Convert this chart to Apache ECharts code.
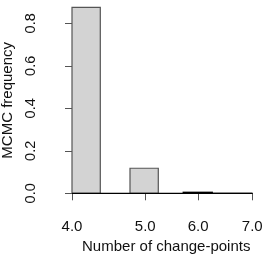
<!DOCTYPE html>
<html><head><meta charset="utf-8">
<script src="https://cdn.jsdelivr.net/npm/echarts@6/dist/echarts.min.js"></script>
<style>html,body{margin:0;padding:0;background:#fff}#c{width:265px;height:256px}</style>
</head><body><div id="c"></div>
<script>
// bins in plot units (bar width = 1)
const binLeft = [0, 2.05, 3.93, 4.96];
const binRight = [1.0, 3.05, 4.96, 6.38];
const freq = [0.875, 0.118, 0.005, 0.0];
const tickPos = [0, 2.59, 4.46, 6.37];
const tickLabels = ["4.0", "5.0", "6.0", "7.0"];

const barData = freq.map((v, i) => [binLeft[i], binRight[i], v]);
const font = "'Liberation Sans', Arial, sans-serif";
const chart = echarts.init(document.getElementById('c'), null, {renderer: 'canvas'});
chart.setOption({
  animation: false,
  grid: {left: 72, right: 12.5, top: 23.3, bottom: 62.7, containLabel: false, outerBoundsMode: 'none'},
  xAxis: {
    type: 'value', min: 0, max: 6.38,
    offset: 9,
    splitLine: {show: false},
    axisLine: {show: true, lineStyle: {color: '#555', width: 1}},
    axisTick: {show: true, length: 7, lineStyle: {color: '#555'}, customValues: tickPos},
    axisLabel: {show: true, customValues: tickPos, margin: 17, color: '#111', fontSize: 15, fontFamily: font,
      formatter: v => tickLabels[tickPos.findIndex(t => Math.abs(t - v) < 1e-6)] },
    name: 'Number of change-points', nameLocation: 'middle', nameGap: 33,
    nameTextStyle: {color: '#111', fontSize: 15, fontFamily: font, padding: [0, 0, 0, 8]}
  },
  yAxis: {
    type: 'value', min: 0, max: 0.8, interval: 0.2,
    offset: 16.7,
    splitLine: {show: false},
    axisLine: {show: true, lineStyle: {color: '#555', width: 1}},
    axisTick: {show: true, length: 7, lineStyle: {color: '#555'}},
    axisLabel: {rotate: 90, margin: 17, color: '#111', fontSize: 14.5, fontFamily: font,
      formatter: v => v.toFixed(1)},
    name: 'MCMC frequency', nameLocation: 'middle', nameGap: 33, nameRotate: 90,
    nameTextStyle: {color: '#111', fontSize: 15, fontFamily: font, padding: [0, 0, 0, 16]}
  },
  series: [
    {
      type: 'custom', clip: false,
      data: barData,
      renderItem: (params, api) => {
        const p0 = api.coord([api.value(0), 0]);
        const p1 = api.coord([api.value(1), api.value(2)]);
        return {type: 'rect', shape: {x: p0[0], y: p1[1], width: p1[0] - p0[0], height: p0[1] - p1[1]},
          style: {fill: '#d3d3d3', stroke: api.value(2) < 0.01 ? '#000' : '#555', lineWidth: 1.2}};
      }
    },
    {
      type: 'line', data: [[binLeft[0], 0], [binRight[binRight.length - 1], 0]],
      symbol: 'none', lineStyle: {color: '#000', width: 1.2}, silent: true
    }
  ]
});
</script></body></html>
